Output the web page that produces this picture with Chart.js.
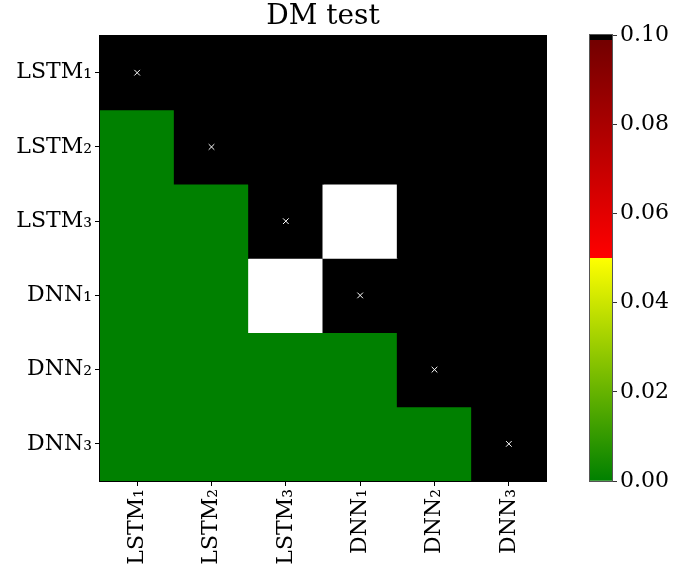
<!DOCTYPE html>
<html>
<head>
<meta charset="utf-8">
<script src="https://cdn.jsdelivr.net/npm/chart.js@4/dist/chart.umd.min.js"></script>
<style>
  body { margin: 0; background: #fff; }
  #wrap { position: relative; width: 673px; height: 571px; }
  canvas { position: absolute; left: 0; top: 0; }
</style>
</head>
<body>
<div id="wrap">
  <canvas id="heat" width="673" height="571"></canvas>
  <canvas id="cbar" width="673" height="571"></canvas>
</div>
<script>
// models (same order on both axes)
const models = ["LSTM₁", "LSTM₂", "LSTM₃", "DNN₁", "DNN₂", "DNN₃"];

// DM test p-values, one list per row (top to bottom), null = no value (white)
const rowLSTM1 = [1, 1, 1, 1, 1, 1];
const rowLSTM2 = [0, 1, 1, 1, 1, 1];
const rowLSTM3 = [0, 0, 1, null, 1, 1];
const rowDNN1 = [0, 0, null, 1, 1, 1];
const rowDNN2 = [0, 0, 0, 0, 1, 1];
const rowDNN3 = [0, 0, 0, 0, 0, 1];
const pvalues = [rowLSTM1, rowLSTM2, rowLSTM3, rowDNN1, rowDNN2, rowDNN3];

// colorbar
const cbarMin = 0;
const cbarMax = 0.1;
const cbarTicks = [0, 0.02, 0.04, 0.06, 0.08, 0.1];

const serif = "'DejaVu Serif', serif";

function mix(a, b, t) {
  return "rgb(" + a.map((c, i) => Math.round(c + (b[i] - c) * t)).join(",") + ")";
}

// green -> yellow below 0.05, red -> dark red above, black past the top
function cellColor(v) {
  if (v === null) return "#ffffff";
  if (v >= cbarMax) return "#000000";
  if (v < 0.05) return mix([0, 128, 0], [255, 255, 0], v / 0.05);
  return mix([255, 0, 0], [115, 0, 0], (v - 0.05) / 0.05);
}

// draws the box round the plot area
const frame = {
  id: "frame",
  afterDraw(chart, args, opts) {
    const a = chart.chartArea;
    const ctx = chart.ctx;
    ctx.save();
    ctx.strokeStyle = opts.color || "#000";
    ctx.lineWidth = 1;
    ctx.strokeRect(Math.round(a.left) - 0.5, Math.round(a.top) - 0.5,
      Math.round(a.right - a.left) + 1, Math.round(a.bottom - a.top) + 1);
    ctx.restore();
  },
};

// centre the title over the plot, not the whole canvas
const titleOverPlot = {
  id: "titleOverPlot",
  afterLayout(chart) {
    const t = chart.titleBlock;
    if (!t) return;
    t.left = chart.chartArea.left;
    t.right = chart.chartArea.right;
    t.width = t.right - t.left;
  },
};

// HEATMAP

const rowSets = pvalues.map((row, i) => ({
  type: "bar",
  label: models[i],
  data: row.map(() => [i - 0.5, i + 0.5]),
  backgroundColor: row.map(cellColor),
  borderWidth: 0,
  inflateAmount: 0.5,
  barPercentage: 1,
  categoryPercentage: 1,
  grouped: false,
  order: 2,
}));

const diagSet = {
  type: "line",
  label: "diag",
  data: models.map((m, i) => ({ x: m, y: i })),
  showLine: false,
  pointStyle: "crossRot",
  pointRadius: 4,
  pointBorderColor: "#ffffff",
  pointBorderWidth: 1,
  order: 1,
};

new Chart(document.getElementById("heat"), {
  type: "bar",
  data: { labels: models, datasets: [...rowSets, diagSet] },
  options: {
    responsive: false,
    animation: false,
    layout: { padding: { left: 0, right: 127, top: 0, bottom: 0 } },
    plugins: {
      legend: { display: false },
      tooltip: { enabled: false },
      title: {
        display: true,
        text: "DM test",
        color: "#000",
        font: { family: serif, size: 28, weight: "normal" },
        padding: { top: 0, bottom: 2 },
      },
      frame: { color: "#000" },
    },
    scales: {
      x: {
        type: "category",
        offset: true,
        grid: { display: true, drawOnChartArea: false, tickLength: 5, tickColor: "#000", offset: false },
        border: { display: true, color: "#000" },
        ticks: {
          color: "#000",
          font: { family: serif, size: 22 },
          minRotation: 90,
          maxRotation: 90,
          padding: 3,
        },
        afterFit: (s) => { s.height = 90; },
      },
      y: {
        type: "linear",
        reverse: true,
        min: -0.5,
        max: 5.5,
        grid: { display: true, drawOnChartArea: false, tickLength: 5, tickColor: "#000" },
        border: { display: true, color: "#000" },
        afterBuildTicks: (s) => { s.ticks = models.map((m, i) => ({ value: i })); },
        ticks: {
          color: "#000",
          font: { family: serif, size: 22 },
          padding: 3,
          callback: (v) => models[v],
        },
        afterFit: (s) => { s.width = 100; },
      },
    },
  },
  plugins: [frame, titleOverPlot],
});

// COLORBAR

new Chart(document.getElementById("cbar"), {
  type: "bar",
  data: {
    labels: ["p"],
    datasets: [{
      data: [[cbarMin, cbarMax]],
      borderWidth: 0,
      barPercentage: 1,
      categoryPercentage: 1,
      backgroundColor: (c) => {
        const a = c.chart.chartArea;
        if (!a) return "#008000";
        const g = c.chart.ctx.createLinearGradient(0, a.bottom, 0, a.top);
        g.addColorStop(0, "rgb(0,128,0)");
        g.addColorStop(0.5, "rgb(255,255,0)");
        g.addColorStop(0.5, "rgb(255,0,0)");
        g.addColorStop(0.988, "rgb(115,0,0)");
        g.addColorStop(0.988, "rgb(0,0,0)");
        g.addColorStop(1, "rgb(0,0,0)");
        return g;
      },
    }],
  },
  options: {
    responsive: false,
    animation: false,
    layout: { padding: { left: 590, right: 0, top: 35, bottom: 90 } },
    plugins: {
      legend: { display: false },
      tooltip: { enabled: false },
      frame: { color: "#555" },
    },
    scales: {
      x: { display: false },
      y: {
        type: "linear",
        position: "right",
        min: cbarMin,
        max: cbarMax,
        grid: { display: true, drawOnChartArea: false, tickLength: 5, tickColor: "#333" },
        border: { display: true, color: "#555" },
        afterBuildTicks: (s) => { s.ticks = cbarTicks.map((v) => ({ value: v })); },
        ticks: {
          color: "#000",
          font: { family: serif, size: 22 },
          padding: 3,
          callback: (v) => v.toFixed(2),
        },
        afterFit: (s) => { s.width = 61; },
      },
    },
  },
  plugins: [frame],
});
</script>
</body>
</html>
